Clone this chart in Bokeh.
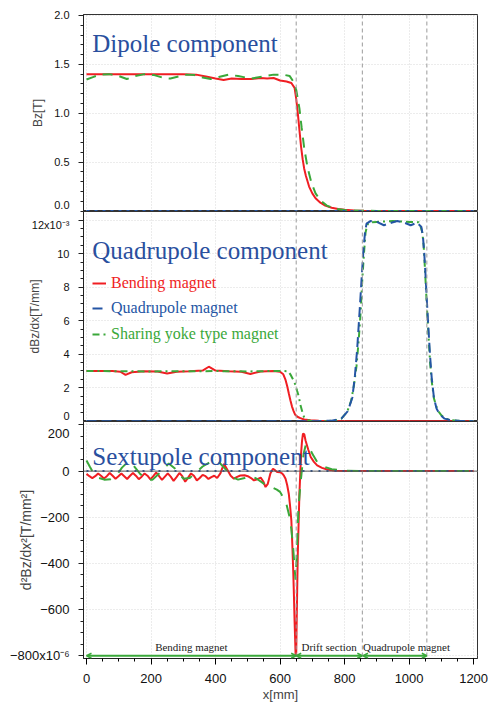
import numpy as np
from bokeh.plotting import figure
from bokeh.layouts import column
from bokeh.models import (Range1d, FixedTicker, Span, Label, Legend, LegendItem, LinearAxis,
                          Arrow, OpenHead, ColumnDataSource)
from bokeh.core.properties import value
from bokeh.embed import file_html
from bokeh.resources import INLINE

# ---------------- data ----------------
# Dipole component Bz [T]
x_dp_bend = [0, 50, 100, 150, 200, 250, 300, 340, 370, 400, 425, 450, 480, 510, 540, 560, 580, 600, 620, 635,
             645, 650, 655, 660, 665, 670, 675, 680, 690, 700, 710, 725, 740, 760, 780, 800, 830, 860, 900, 1000, 1200]
dp_bend = [1.40, 1.40, 1.40, 1.40, 1.40, 1.40, 1.40, 1.395, 1.375, 1.355, 1.34, 1.355, 1.35, 1.35, 1.36, 1.355, 1.36,
           1.335, 1.325, 1.31, 1.26, 1.15, 1.0, 0.83, 0.66, 0.53, 0.43, 0.36, 0.25, 0.18, 0.13, 0.085, 0.055, 0.033,
           0.02, 0.012, 0.006, 0.003, 0.001, 0.0, 0.0]
x_dp_yoke = [0, 20, 40, 70, 100, 125, 150, 180, 210, 240, 260, 285, 310, 335, 360, 385, 410, 440, 470, 510,
             545, 580, 610, 630, 640, 650, 660, 667, 675, 685, 697, 710, 725, 745, 770, 800, 850, 900, 1000, 1200]
dp_yoke = [1.345, 1.37, 1.395, 1.40, 1.38, 1.35, 1.38, 1.40, 1.39, 1.36, 1.355, 1.375, 1.395, 1.39, 1.365, 1.35,
           1.37, 1.395, 1.38, 1.355, 1.375, 1.395, 1.395, 1.38, 1.33, 1.24, 1.05, 0.85, 0.64, 0.45, 0.29, 0.18,
           0.11, 0.055, 0.025, 0.01, 0.003, 0.001, 0.0, 0.0]
x_dp_quad = [0, 1200]
dp_quad = [0.0, 0.0]

# Quadrupole component dBz/dx [1e-3 T/mm]
x_q_bend = [0, 40, 80, 105, 121, 140, 180, 220, 250, 280, 320, 360, 379, 400, 440, 480, 508, 540, 580, 600,
            610, 617, 622, 627, 632, 637, 642, 647, 655, 663, 675, 694, 720, 800, 1200]
q_bend = [3.0, 3.0, 3.0, 2.95, 2.76, 2.92, 2.98, 2.97, 2.85, 2.95, 2.98, 3.02, 3.25, 3.02, 2.98, 2.95, 2.82, 2.97,
          3.0, 2.95, 2.8, 2.46, 2.1, 1.67, 1.25, 0.87, 0.6, 0.38, 0.25, 0.18, 0.1, 0.05, 0.02, 0.0, 0.0]
x_q_yoke = [0, 100, 200, 300, 400, 500, 600, 625, 633, 640, 648, 653, 658, 663, 669, 674, 680, 690, 700, 740,
            770, 790, 808, 820, 829, 837, 844, 850, 855, 860, 865, 870, 875, 900, 950, 1000, 1030, 1036, 1041, 1045,
            1048, 1052, 1056, 1060, 1065, 1070, 1077, 1085, 1092, 1100, 1113, 1130, 1149, 1170, 1200]
q_yoke = [3.0, 2.98, 2.97, 2.98, 2.99, 2.97, 3.0, 2.98, 2.76, 2.5, 2.16, 1.8, 1.47, 0.97, 0.55, 0.26, 0.12, 0.04,
          0.0, 0.0, 0.03, 0.15, 0.55, 1.2, 2.14, 3.3, 4.9, 6.6, 8.5, 10.0, 11.27, 11.7, 11.86, 11.9, 11.95, 11.9,
          11.88, 11.6, 11.27, 10.5, 9.5, 8.0, 6.5, 5.2, 3.5, 2.4, 1.35, 0.85, 0.55, 0.35, 0.15, 0.07, 0.03, 0.01, 0.0]
x_q_quad = [0, 700, 760, 790, 810, 824, 832, 839, 847, 853, 858, 863, 868, 880, 900, 922, 945, 963, 985, 1005,
            1025, 1038, 1043, 1047, 1051, 1055, 1060, 1065, 1070, 1077, 1085, 1095, 1110, 1130, 1160, 1200]
q_quad = [0, 0, 0.03, 0.15, 0.6, 1.4, 2.7, 4.3, 6.7, 8.6, 10.1, 11.2, 11.8, 11.95, 11.9, 11.7, 11.85, 11.95,
          11.85, 11.7, 11.85, 11.6, 11.0, 10.0, 8.7, 7.2, 5.5, 3.9, 2.6, 1.4, 0.75, 0.4, 0.15, 0.05, 0.01, 0]

# Sextupole component d2Bz/dx2 [1e-6 T/mm^2]
x_sx_bend = [0, 9, 18, 27, 36, 45, 54, 63, 72, 81, 90, 99, 108, 117, 126, 135, 144, 153, 162, 171, 180, 189, 198,
             207, 216, 225, 234, 243, 252, 261, 270, 279, 288, 297, 306, 315, 324, 333, 342, 351, 360, 369, 378,
             387, 396, 405, 415, 426, 437, 447, 457, 467, 477, 490, 500, 510, 519, 530, 540, 548, 555, 562, 570,
             578, 585, 591, 600, 607, 612, 617, 622, 627, 631, 635, 638, 641, 643, 645, 647, 648, 650, 651, 653,
             655, 658, 660, 663, 665, 668, 671, 675, 679, 687, 695, 705, 715, 730, 746, 770, 800, 1200]
sx_bend = [-12, -22, -30, -22, -10, -20, -32, -22, -8, -20, -33, -22, -10, -22, -34, -20, -8, -20, -35, -24, -10,
           -20, -36, -22, -6, -22, -38, -24, -10, -24, -42, -26, -8, -22, -46, -28, -10, -20, -40, -30, -16, -22,
           -34, -26, -20, -30, -10, 32, 5, -20, -33, -25, -19, -18, -22, -30, -40, -35, -28, -45, -69, -55, -10,
           10, 3, -4, -5, -11, -20, -33, -60, -98, -150, -214, -320, -440, -540, -650, -740, -790, -800, -700,
           -520, -357, -200, -97, 0, 75, 130, 162, 160, 133, 95, 61, 40, 25, 14, 7, 2, 0, 0]
x_sx_yoke = [0, 10, 20, 35, 55, 75, 95, 110, 128, 145, 165, 185, 205, 225, 255, 275, 300, 320, 340, 360, 385,
             410, 430, 450, 470, 490, 510, 530, 555, 575, 590, 600, 610, 620, 628, 635, 641, 645, 648, 652, 657,
             663, 668, 673, 680, 688, 700, 715, 735, 760, 800, 850, 1200]
sx_yoke = [46, 20, -5, -28, -37, -35, -15, 15, 40, 25, -10, -37, -37, -10, 33, 10, -33, -30, -5, 20, 40, 40, 10,
           -25, -37, -30, -20, -35, -60, -70, -80, -90, -115, -145, -190, -250, -340, -420, -470, -360, -160, -60,
           10, 75, 115, 110, 75, 40, 20, 8, 2, 0, 0]
x_sx_quad = [0, 1200]
sx_quad = [0, 0]

# section boundaries and names
boundaries = [650, 855, 1055]
sec_start = [0, 650, 857]
sec_end = [650, 855, 1055]
sec_names = ["Bending magnet", "Drift section", "Quadrupole magnet"]
sec_label_x = [325, 752, 992]

# ticks and labels
dp_ticks = [0, 0.5, 1.0, 1.5, 2.0]
dp_labels = ["0.0", "0.5", "1.0", "1.5", "2.0"]
q_ticks = [0, 2, 4, 6, 8, 10, 12]
q_labels = ["0", "2", "4", "6", "8", "10", "12x10\u207b\u00b3"]
sx_ticks = [-800, -600, -400, -200, 0, 200]
sx_labels = ["\u2212800x10\u207b\u2076", "\u2212600", "\u2212400", "\u2212200", "0", "200"]
x_ticks = [0, 200, 400, 600, 800, 1000, 1200]
x_labels = ["0", "200", "400", "600", "800", "1000", "1200"]
legend_names = ["Bending magnet", "Quadrupole magnet", "Sharing yoke type magnet"]

# ---------------- style ----------------
RED = "#f01e23"
GREEN = "#3aa83a"
BLUE = "#2455a4"
TITLE = "#2a4f9e"
SANS = "Liberation Sans"
SERIF = "Liberation Serif"

x_range = Range1d(-9.3, 1212)


def make_fig(height, y_range, top, bottom, with_x):
    p = figure(width=488, height=height, x_range=x_range, y_range=y_range,
               output_backend="svg", toolbar_location=None,
               x_axis_location="below" if with_x else None,
               min_border=0, min_border_left=83, min_border_right=11,
               min_border_top=top, min_border_bottom=bottom)
    p.outline_line_color = "#333333"
    p.outline_line_width = 1
    p.background_fill_color = "white"
    p.border_fill_color = "white"
    p.xgrid.ticker = FixedTicker(ticks=x_ticks)
    for g in (p.xgrid[0], p.ygrid[0]):
        g.grid_line_color = "#d8d8d8"
        g.grid_line_dash = "1 2"
    for b in boundaries:
        p.add_layout(Span(location=b, dimension="height", line_color="#9a9a9a",
                          line_dash="4 3", line_width=1))
    return p


def style_y(p, ticks, labels, minor, fsize, title, tsize, tstandoff, px_per_unit, nudge):
    # inner axis: the tick marks only
    ax = p.yaxis[0]
    ax.ticker = FixedTicker(ticks=ticks, minor_ticks=list(minor))
    ax.major_label_overrides = {t: "" for t in ticks}
    ax.major_label_standoff = 0
    ax.major_tick_out = 5
    ax.major_tick_in = 0
    ax.minor_tick_out = 3
    ax.minor_tick_in = 0
    ax.axis_line_color = "#222222"
    ax.major_tick_line_color = "#222222"
    ax.minor_tick_line_color = "#222222"
    # outer axis: the tick labels (labels at the panel edges nudged inward, in px) and the title
    pos = [t + nudge.get(t, 0) / px_per_unit for t in ticks]
    lab = LinearAxis(ticker=FixedTicker(ticks=pos),
                     major_label_overrides={q: l for q, l in zip(pos, labels)},
                     axis_line_color=None, major_tick_line_color=None, minor_tick_line_color=None,
                     major_tick_out=0, major_tick_in=0, minor_tick_out=0, minor_tick_in=0,
                     major_label_standoff=9, major_label_text_font=SANS,
                     major_label_text_font_size=fsize, major_label_text_color="#111111",
                     axis_label=title, axis_label_text_font=SANS, axis_label_text_font_style="normal",
                     axis_label_text_font_size=tsize, axis_label_standoff=tstandoff)
    p.add_layout(lab, "left")


def title(p, x, y, text):
    p.add_layout(Label(x=x, y=y, text=text, text_font=SERIF, text_font_size="25px",
                       text_color=TITLE, text_baseline="alphabetic"))


# ---------------- dipole ----------------
p1 = make_fig(211, Range1d(-0.005, 2.01), 14, 0, False)
style_y(p1, dp_ticks, dp_labels, np.arange(0, 2.05, 0.1), "11px", "Bz[T]", "12px", 6,
        197 / 2.015, {0: 6})
p1.line(x_dp_bend, dp_bend, line_color=RED, line_width=2)
p1.line(x_dp_yoke, dp_yoke, line_color=GREEN, line_width=2, line_dash="10 7")
p1.line(x_dp_quad, dp_quad, line_color=BLUE, line_width=2, line_dash="3 5")
title(p1, 18, 1.714, "Dipole component")

# ---------------- quadrupole ----------------
p2 = make_fig(210, Range1d(-0.02, 12.52), 0, 0, False)
style_y(p2, q_ticks, q_labels, np.arange(0, 12.6, 0.5), "11px", "dBz/dx[T/mm]", "12px", -13,
        210 / 12.54, {0: 5, 12: -5})
rq_bend = p2.line(x_q_bend, q_bend, line_color=RED, line_width=2)
rq_yoke = p2.line(x_q_yoke, q_yoke, line_color=GREEN, line_width=2, line_dash="7 4 2 4")
rq_quad = p2.line(x_q_quad, q_quad, line_color=BLUE, line_width=2, line_dash="10 5")
title(p2, 18, 10.2, "Quadrupole component")
for r, name, col, ypos in zip([rq_bend, rq_quad, rq_yoke], legend_names, [RED, BLUE, GREEN], [128, 103, 77]):
    lg = Legend(items=[LegendItem(label=name, renderers=[r])], location=(9, ypos),
                label_text_color=col, label_text_font=SERIF, label_text_font_size="16px",
                glyph_width=14, glyph_height=12, label_height=20, label_standoff=5,
                padding=0, margin=0, spacing=0, border_line_color=None,
                background_fill_alpha=0)
    p2.add_layout(lg)

# ---------------- sextupole ----------------
p3 = make_fig(284, Range1d(-812, 215), 0, 47, True)
style_y(p3, sx_ticks, sx_labels, np.arange(-800, 201, 50), "13px", "d\u00b2Bz/dx\u00b2[T/mm\u00b2]", "14px", -27,
        237 / 1027, {200: -9})
xa = p3.xaxis[0]
xa.ticker = FixedTicker(ticks=x_ticks, minor_ticks=list(range(0, 1201, 50)))
xa.major_label_overrides = {t: l for t, l in zip(x_ticks, x_labels)}
xa.major_label_text_font = SANS
xa.major_label_text_font_size = "13px"
xa.major_label_text_color = "#111111"
xa.major_label_standoff = 9
xa.major_tick_out = 6
xa.major_tick_in = 0
xa.minor_tick_out = 3
xa.minor_tick_in = 0
xa.axis_line_color = "#222222"
xa.axis_label = "x[mm]"
xa.axis_label_text_font = SANS
xa.axis_label_text_font_style = "normal"
xa.axis_label_text_font_size = "13px"
xa.axis_label_standoff = 1

p3.add_layout(Span(location=0, dimension="width", line_color="#555555", line_width=1))
p3.line(x_sx_bend, sx_bend, line_color=RED, line_width=2)
p3.line(x_sx_yoke, sx_yoke, line_color=GREEN, line_width=2, line_dash="12 10")
p3.line(x_sx_quad, sx_quad, line_color=BLUE, line_width=2, line_dash="2 6")
title(p3, 18, 64, "Sextupole component")

arrow_src = ColumnDataSource(dict(x0=sec_start, x1=sec_end, y=[-800] * len(sec_start)))
p3.add_layout(Arrow(x_start="x0", y_start="y", x_end="x1", y_end="y", source=arrow_src,
                    line_color=GREEN, line_width=2,
                    start=OpenHead(size=5, line_color=GREEN, line_width=1.5),
                    end=OpenHead(size=5, line_color=GREEN, line_width=1.5)))
p3.text(x=sec_label_x, y=[-760] * len(sec_names), text=sec_names, text_font=value(SERIF),
        text_font_size="11px", text_align="center", text_baseline="alphabetic", text_color="#222222")

layout = column(p1, p2, p3, spacing=0)
open("out.html", "w").write(file_html(layout, INLINE))
